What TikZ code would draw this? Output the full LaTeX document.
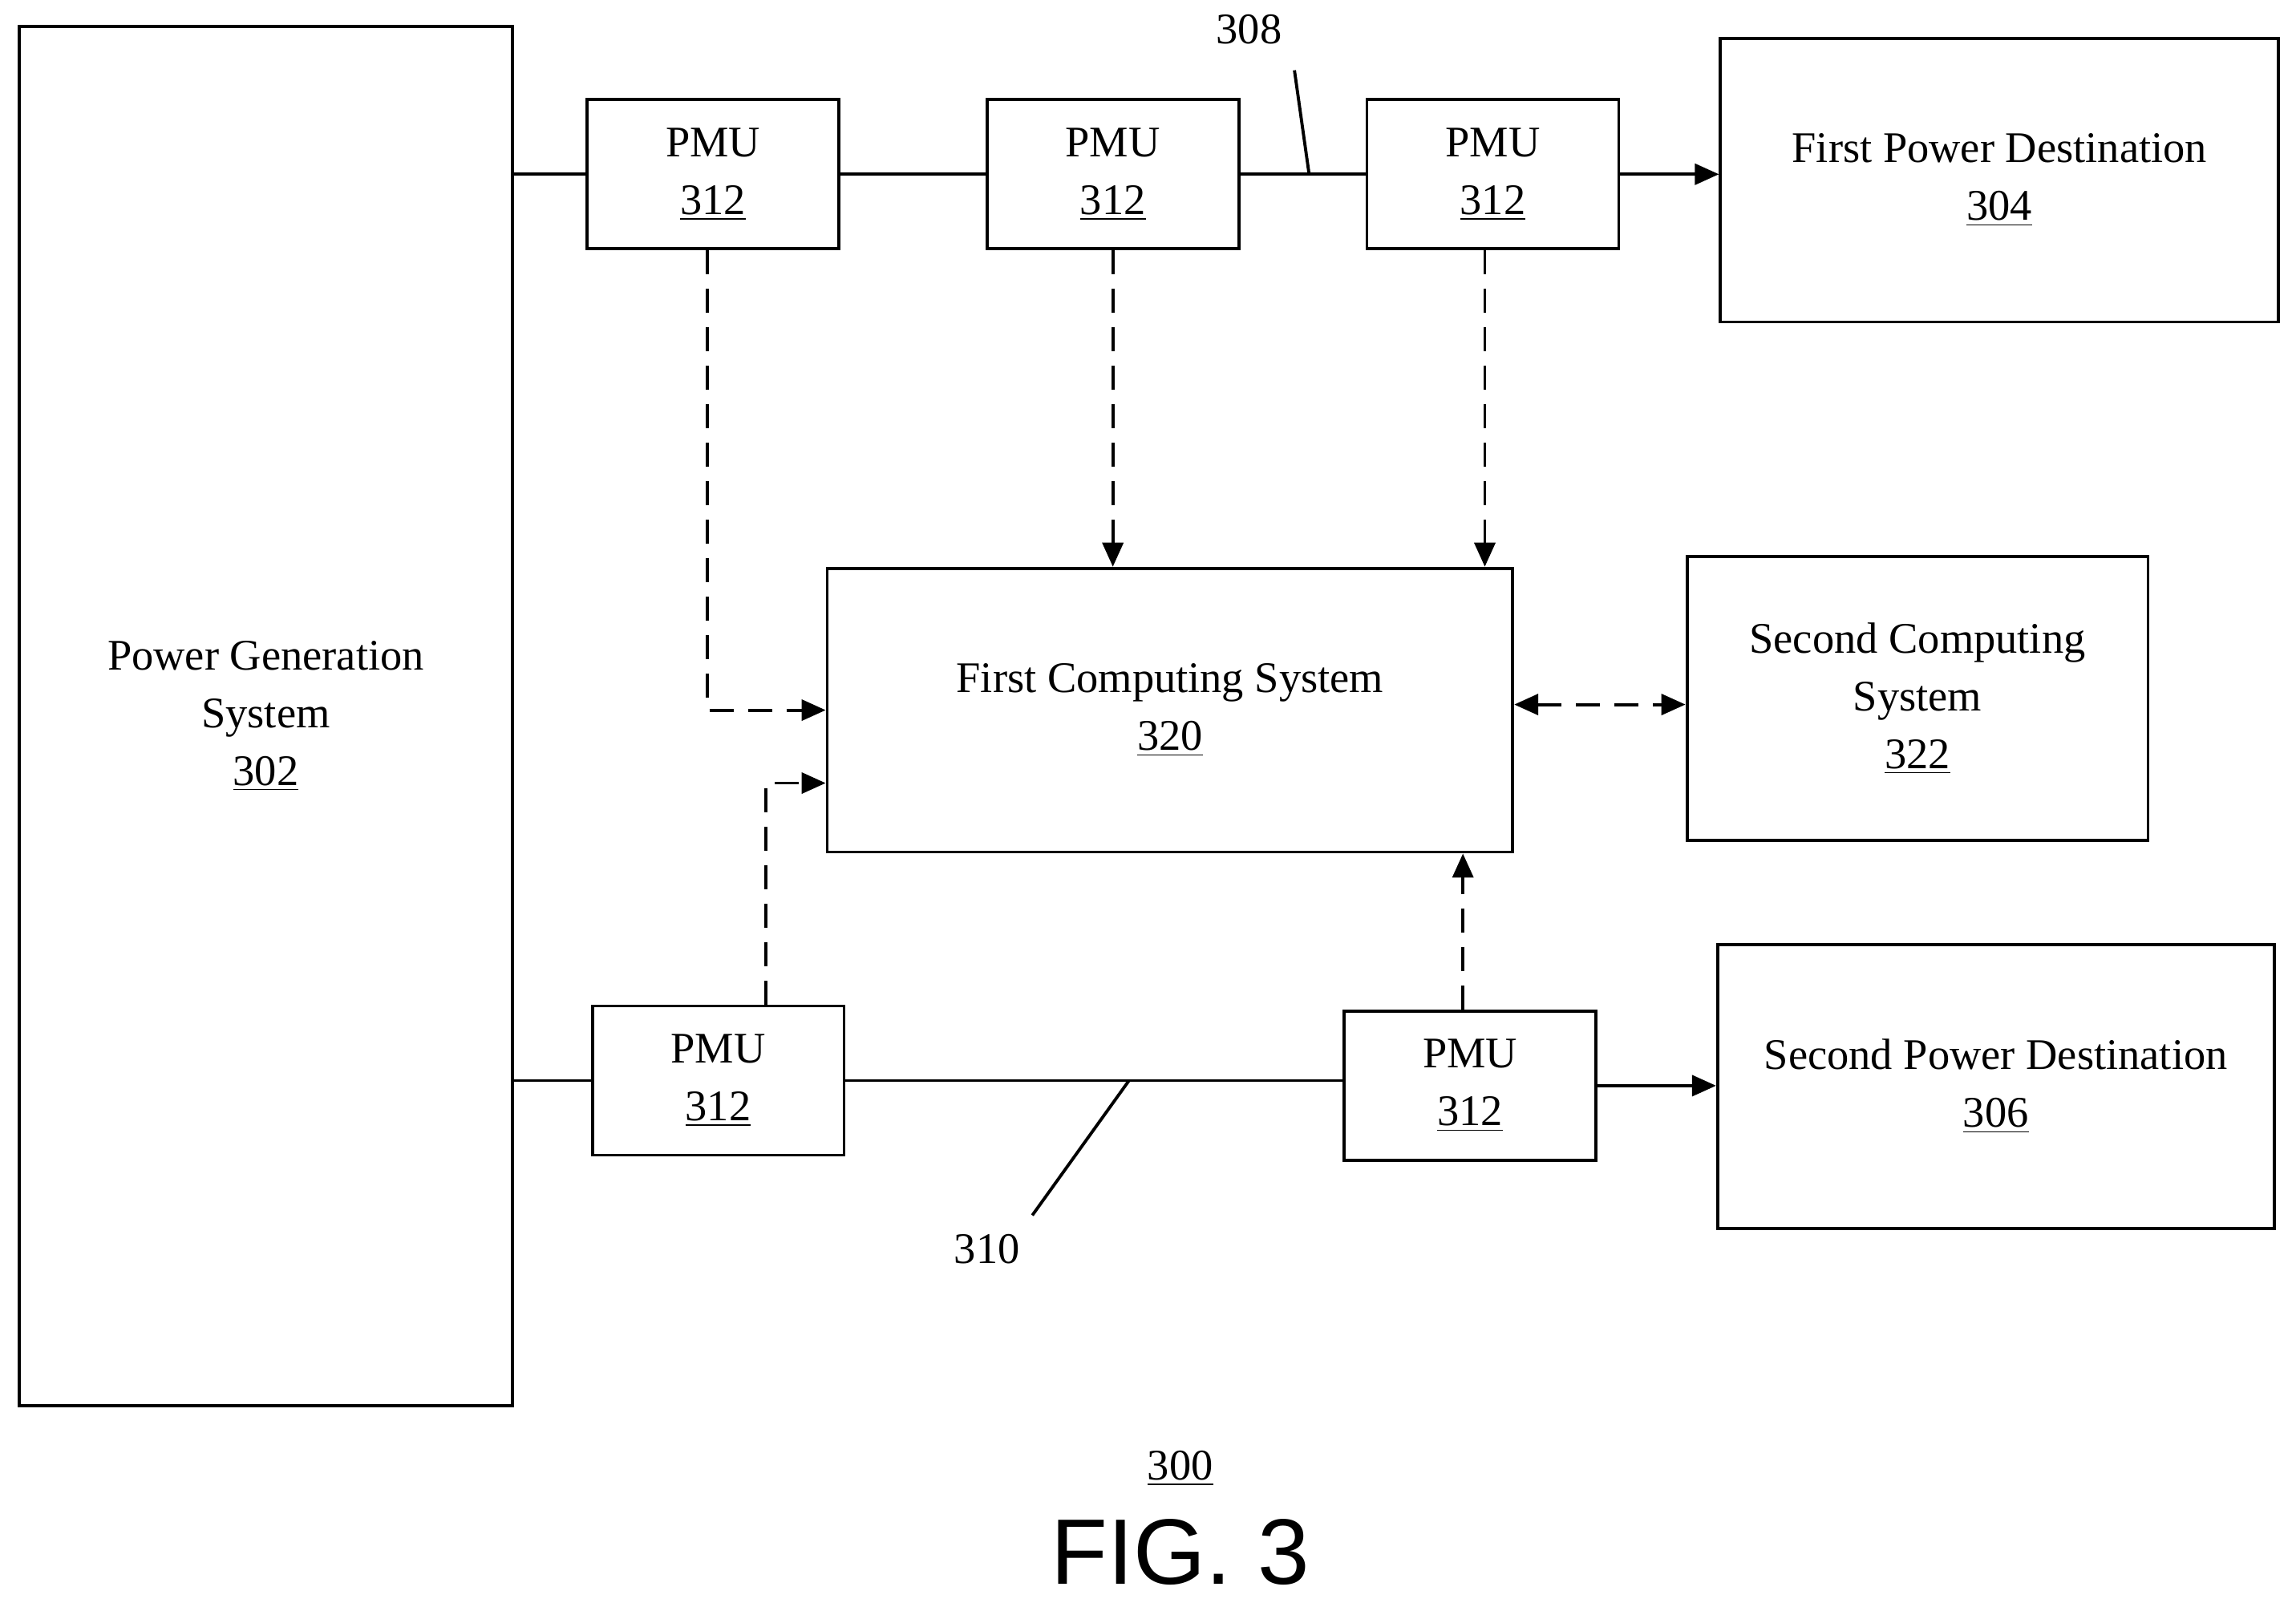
\documentclass[tikz,border=0pt]{standalone}
\usepackage{fontspec}
\setmainfont{Liberation Serif}
\newfontfamily\figfont{Liberation Sans}
\usetikzlibrary{arrows.meta, positioning, calc}

\begin{document}
\begin{tikzpicture}[
  x=0.01826cm, y=-0.01826cm,
  block/.style = {draw, line width=1.1pt, align=center, font=\fontsize{15.5}{20.5}\selectfont},
  pmu/.style = {block, minimum width=3.14cm, minimum height=1.86cm},
  big/.style = {block, minimum height=3.54cm},
  line/.style = {line width=1.1pt},
  arrow/.style = {line width=1.1pt, -{Triangle[length=3mm, width=2.6mm]}},
  sig/.style = {line width=1.1pt, dash pattern=on 0.3cm off 0.18cm, -{Triangle[length=3mm, width=2.6mm]}},
  num/.style = {font=\fontsize{15.5}{19}\selectfont}
]
\useasboundingbox (0,0) rectangle (1568,1097);

% sources and destinations
\node[block, minimum width=6.15cm, minimum height=17.2cm] (pgs) at (181.5,489) {Power Generation\\System\\\underline{302}};
\node[big, minimum width=6.96cm] (fpd) at (1365.5,123) {First Power Destination\\\underline{304}};
\node[big, minimum width=6.94cm] (spd) at (1363,742) {Second Power Destination\\\underline{306}};

% computing systems
\node[big, minimum width=8.55cm] (fcs) at (799,485) {First Computing System\\\underline{320}};
\node[big, minimum width=5.75cm] (scs) at (1309.5,477) {Second Computing\\System\\\underline{322}};

% PMUs
\node[pmu] (pmua) at (487,119) {PMU\\\underline{312}};
\node[pmu] (pmub) at (760,119) {PMU\\\underline{312}};
\node[pmu] (pmuc) at (1019.5,119) {PMU\\\underline{312}};
\node[pmu] (pmud) at (490.5,738) {PMU\\\underline{312}};
\node[pmu] (pmue) at (1004,741.5) {PMU\\\underline{312}};

% power lines
\draw[line] (pgs.east |- pmua.west) -- (pmua.west);
\draw[line] (pmua.east) -- (pmub.west);
\draw[line] (pmub.east) -- coordinate[pos=0.55] (l308) (pmuc.west);
\draw[arrow] (pmuc.east) -- (pmuc.east -| fpd.west);
\draw[line] (pgs.east |- pmud.west) -- (pmud.west);
\draw[line] (pmud.east) -- coordinate[pos=0.57] (l310) (pmud.east -| pmue.west);
\draw[arrow] (pmue.east) -- (pmue.east -| spd.west);

% reference labels
\node[num] (n308) at (853,20) {308};
\node[num] (n310) at (674,853) {310};
\draw[line] (884,48) -- (l308);
\draw[line] (705,830) -- (l310);

% measurement data
\draw[sig] ([xshift=-0.07cm]pmua.south) |- (fcs.west);
\draw[sig] (pmub.south) -- (pmub.south |- fcs.north);
\draw[sig] ([xshift=-0.1cm]pmuc.south) -- ([xshift=-0.1cm]pmuc.south |- fcs.north);
\draw[sig] ([xshift=0.59cm]pmud.north) |- ([yshift=-0.91cm]fcs.west);
\draw[sig] ([xshift=-0.09cm]pmue.north) -- ([xshift=-0.09cm]pmue.north |- fcs.south);
\draw[sig, {Triangle[length=3mm, width=2.6mm]}-{Triangle[length=3mm, width=2.6mm]}] ([yshift=0.07cm]fcs.east) -- ([yshift=0.07cm]fcs.east -| scs.west);

% figure label
\node[num] (n300) at (806,1003) {\underline{300}};
\node[font=\figfont\fontsize{33}{36}\selectfont] (fig) at (806,1060) {FIG. 3};
\end{tikzpicture}
\end{document}
